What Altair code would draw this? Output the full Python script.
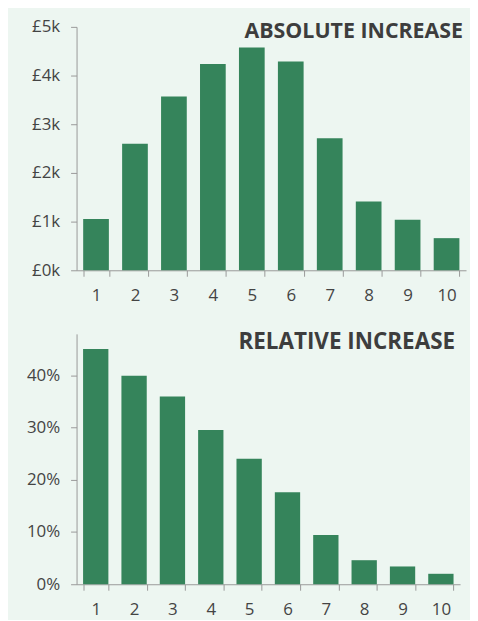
import altair as alt
import pandas as pd

deciles = [1, 2, 3, 4, 5, 6, 7, 8, 9, 10]
abs_increase = [1055, 2598, 3571, 4238, 4578, 4286, 2714, 1414, 1040, 660]
rel_increase = [0.450, 0.399, 0.359, 0.295, 0.240, 0.176, 0.094, 0.046, 0.034, 0.020]
titles = ["ABSOLUTE INCREASE", "RELATIVE INCREASE"]
abs_ticks = [0, 1000, 2000, 3000, 4000, 5000]
rel_ticks = [0, 0.1, 0.2, 0.3, 0.4]

df = pd.DataFrame({"decile": deciles, "abs": abs_increase, "rel": rel_increase})

BAR = "#35845b"
BG = "#edf6f1"
FONT = "Open Sans"
TITLE_COLOR = "#3d3d3d"

W_TOP, H_TOP = 392, 245
W_BOT, H_BOT = 386, 252


def x_enc():
    return alt.X(
        "decile:O",
        scale=alt.Scale(paddingInner=0.34, paddingOuter=0.17),
        axis=alt.Axis(title=None, labelAngle=0, tickBand="extent"),
    )


top_bars = alt.Chart(df).mark_bar(color=BAR).encode(
    x=x_enc(),
    y=alt.Y(
        "abs:Q",
        scale=alt.Scale(domain=[0, 5000], nice=False),
        axis=alt.Axis(title=None, values=abs_ticks,
                      labelExpr="'£' + (datum.value / 1000) + 'k'"),
    ),
)
top_title = alt.Chart(pd.DataFrame({"t": [titles[0]]})).mark_text(
    align="right", baseline="alphabetic", font=FONT, fontSize=21.5,
    fontWeight="bold", color=TITLE_COLOR,
).encode(text="t:N", x=alt.value(W_TOP - 3), y=alt.value(11))

bot_bars = alt.Chart(df).mark_bar(color=BAR).encode(
    x=x_enc(),
    y=alt.Y(
        "rel:Q",
        scale=alt.Scale(domain=[0, 0.479], nice=False),
        axis=alt.Axis(title=None, values=rel_ticks, format=".0%"),
    ),
)
bot_title = alt.Chart(pd.DataFrame({"t": [titles[1]]})).mark_text(
    align="right", baseline="alphabetic", font=FONT, fontSize=22.6,
    fontWeight="bold", color=TITLE_COLOR,
).encode(text="t:N", x=alt.value(W_BOT - 5), y=alt.value(15.6))

top = alt.layer(top_bars, top_title).properties(width=W_TOP, height=H_TOP)
bot = alt.layer(bot_bars, bot_title).properties(width=W_BOT, height=H_BOT)

chart = alt.vconcat(top, bot, spacing=64, bounds="flush").properties(
    padding={"left": 18, "top": 7, "right": 3, "bottom": 0},
    background=BG,
).configure_view(stroke="transparent").configure_axis(
    grid=False,
    domainColor="#999999",
    tickColor="#999999",
    domainWidth=1,
    tickWidth=1,
    tickSize=6,
    labelPadding=11,
    labelColor="#444444",
    labelFont=FONT,
    labelFontSize=17,
)

chart.save("out.html", embed_options={"renderer": "svg", "actions": False})
